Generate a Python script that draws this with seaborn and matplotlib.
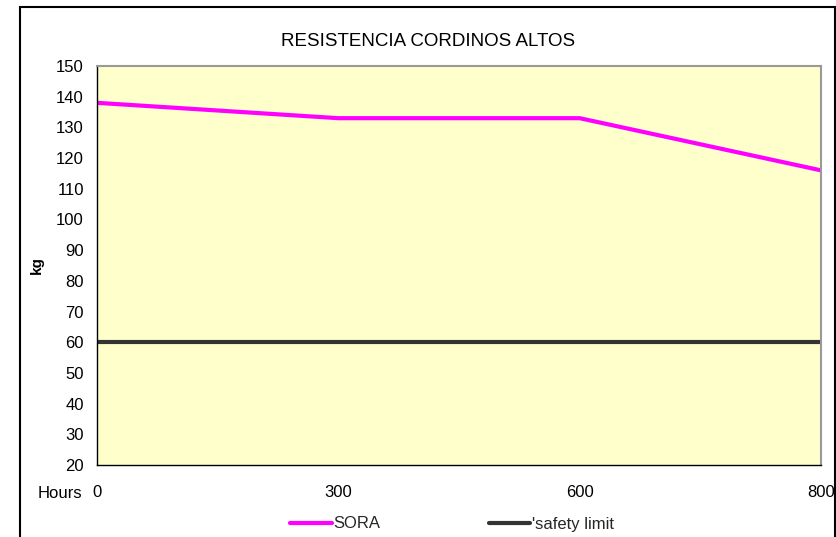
import numpy as np
import pandas as pd
import matplotlib
matplotlib.use('Agg')
import matplotlib.pyplot as plt
from matplotlib.patches import Rectangle
import seaborn as sns

# data
hours = ['0', '300', '600', '800']
sora = [138, 133, 133, 116]
safety_limit = [60, 60, 60, 60]

df = pd.DataFrame({'Hours': hours * 2,
                   'kg': sora + safety_limit,
                   'serie': ['SORA'] * 4 + ["'safety limit"] * 4})

sns.set_style('white')
plt.rcParams['font.family'] = ['Liberation Sans', 'DejaVu Sans']

fig = plt.figure(figsize=(8.37, 5.37), dpi=100)
ax = fig.add_axes([97 / 837, 72 / 537, 724 / 837, 399 / 537])
ax.set_facecolor('#FFFFCC')

sns.lineplot(data=df, x='Hours', y='kg', hue='serie',
             palette={'SORA': '#FF00FF', "'safety limit": '#333333'},
             linewidth=3, ax=ax, legend=True)

ax.set_xlim(0, len(hours) - 1)
ax.set_ylim(20, 150)
ax.set_yticks(np.arange(20, 151, 10))
ax.tick_params(axis='both', direction='inout', length=9, width=1, color='black',
               labelcolor='black', labelsize=12)
ax.tick_params(axis='y', pad=5)
ax.tick_params(axis='x', pad=10)
ax.set_xlabel('')
ax.set_ylabel('kg', fontsize=11, fontweight='bold', labelpad=9, color='black')

for side in ['left', 'bottom']:
    ax.spines[side].set_color('black')
    ax.spines[side].set_linewidth(1)
for side in ['top', 'right']:
    ax.spines[side].set_visible(True)
    ax.spines[side].set_color('#999999')
    ax.spines[side].set_linewidth(1.5)

# "Hours" label to the left of the category labels
fig.text(38 / 837, 1 - 493 / 537, 'Hours', ha='left', va='center',
         fontsize=12, color='black')

fig.text(428 / 837, 1 - 41 / 537, 'RESISTENCIA CORDINOS ALTOS',
         ha='center', va='center', fontsize=13.5, color='black')

handles, labels = ax.get_legend_handles_labels()
ax.legend(handles, labels, loc='center', bbox_to_anchor=(452 / 837, 1 - 524 / 537),
          bbox_transform=fig.transFigure, ncol=2, frameon=False, fontsize=12,
          handlelength=2.5, handletextpad=0.1, columnspacing=6.5)

# outer chart border
fig.patches.append(Rectangle((20 / 837, -0.05), 815 / 837, 1 - 7 / 537 + 0.05,
                             transform=fig.transFigure, fill=False,
                             edgecolor='black', linewidth=1.5))

fig.savefig('out.png', dpi=100)
